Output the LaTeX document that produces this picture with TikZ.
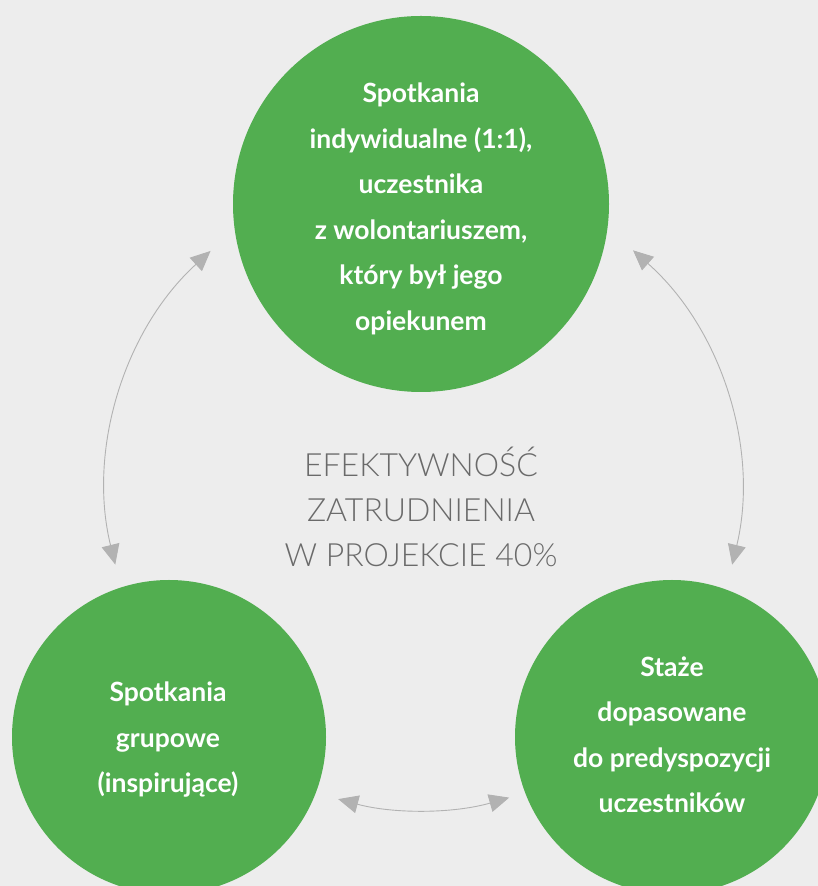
\documentclass[tikz,border=0pt]{standalone}
\usepackage{fontspec}
\setmainfont{Lato}
\newfontfamily\latobold{Lato}[UprightFont=* Bold]
\newfontfamily\latolight{Lato Light}
\usetikzlibrary{arrows.meta,calc}
\definecolor{bg}{HTML}{EDEDED}
\definecolor{grn}{HTML}{52AE50}
\definecolor{arr}{HTML}{B2B2B2}
\definecolor{ctext}{HTML}{6A6A6A}
\begin{document}
\begin{tikzpicture}[x=1pt,y=1pt,
  bubble/.style={circle,fill=grn,inner sep=0pt},
  btext/.style={align=center,text=white,font=\latobold\fontsize{26.5}{45.5}\selectfont},
  ctxt/.style={align=center,text=ctext,font=\latolight\fontsize{32}{45}\selectfont},
  link/.style={draw=arr,line width=0.9pt,{Triangle[length=20pt,width=18pt,fill=arr]}-{Triangle[length=20pt,width=18pt,fill=arr]}}]
\useasboundingbox (0,0) rectangle (818,886);
\fill[bg] (0,0) rectangle (818,886);
\clip (0,0) rectangle (818,886);
\node[bubble,minimum size=376pt] (top) at (421,682) {};
\node[bubble,minimum size=314pt] (bl) at (169,149) {};
\node[bubble,minimum size=314pt] (br) at (672,149) {};
\node[btext] (ttop) at (421,677) {Spotkania\\indywidualne (1:1),\\uczestnika\\z wolontariuszem,\\który był jego\\opiekunem};
\node[btext] (tbl) at (168,146) {Spotkania\\grupowe\\(inspirujące)};
\node[btext] (tbr) at (672,151) {Staże\\dopasowane\\do predyspozycji\\uczestników};
\node[ctxt] (mid) at (421,379) {EFEKTYWNOŚĆ\\ZATRUDNIENIA\\W PROJEKCIE 40\%};
\coordinate (hub) at (421,396);
\coordinate (hubl) at (427,398);
\coordinate (l1) at ($(hubl)+(132.4:321)$);
\coordinate (r1) at ($(hub)+(48.5:320)$);
\coordinate (b1) at ($(hub)+(255:320)$);
\draw[link] (l1) arc[start angle=132.4,end angle=193.8,radius=321];
\draw[link] (r1) arc[start angle=48.5,end angle=-13.5,radius=320];
\draw[link] (b1) arc[start angle=255,end angle=286,radius=320];
\end{tikzpicture}
\end{document}
